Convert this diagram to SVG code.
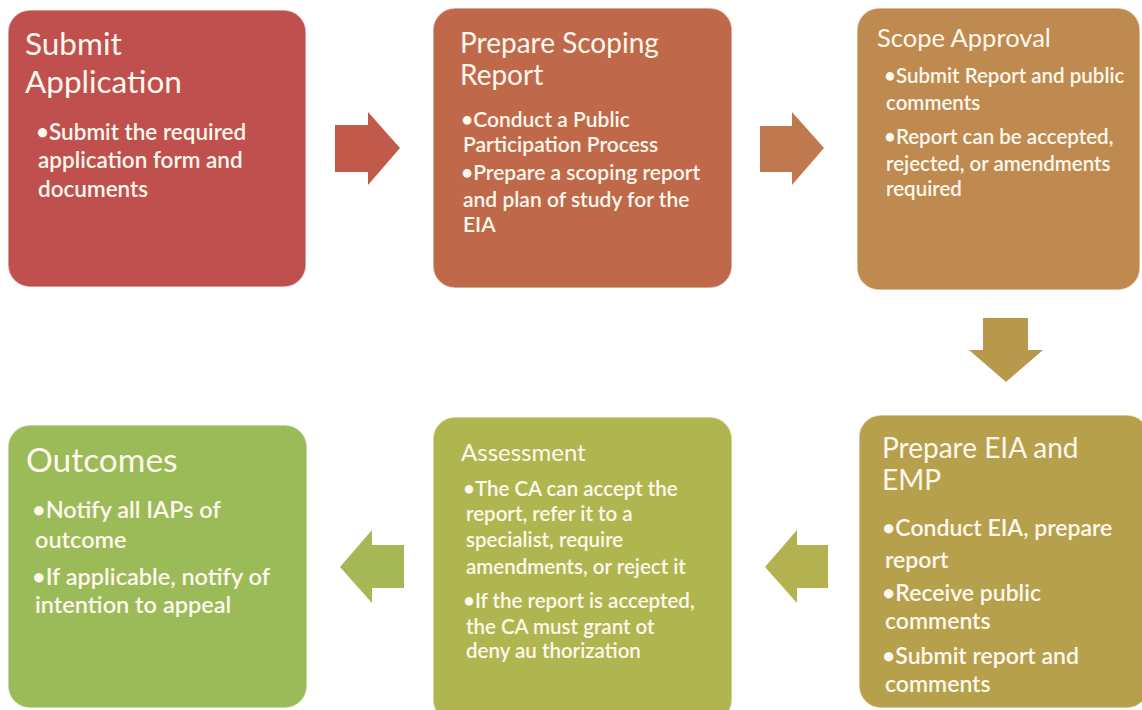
<svg xmlns="http://www.w3.org/2000/svg" width="1142" height="710" viewBox="0 0 1142 710">
  <style>
    .box { stroke: #ffffff; stroke-opacity: 0.55; stroke-width: 1.5; }
    .title { font-family: Lato, "Open Sans", "Liberation Sans", sans-serif; fill: #fff8ee; }
    .body { font-family: Lato, "Open Sans", "Liberation Sans", sans-serif; font-weight: 600; fill: #fff8ee; }
  </style>
  <rect width="1142" height="710" fill="#ffffff"/>

  <!-- process step nodes -->
  <g id="submit-application">
    <rect class="box" x="8" y="10" width="298" height="277" rx="22" fill="#c0504d"/>
    <text class="title" font-size="31.5"><tspan x="25" y="55">Submit</tspan><tspan x="25" y="93">Application</tspan></text>
    <text class="body" font-size="22.5"><tspan x="36" y="140">•Submit the required</tspan><tspan x="38" y="168">application form and</tspan><tspan x="38" y="197">documents</tspan></text>
  </g>

  <g id="prepare-scoping-report">
    <rect class="box" x="433" y="8" width="299" height="280" rx="22" fill="#c0694a"/>
    <text class="title" font-size="28"><tspan x="460" y="53">Prepare Scoping</tspan><tspan x="460" y="85">Report</tspan></text>
    <text class="body" font-size="21"><tspan x="461" y="127">•Conduct  a Public</tspan><tspan x="463" y="152">Participation Process</tspan><tspan x="461" y="180">•Prepare a scoping report</tspan><tspan x="463" y="207">and plan of study for the</tspan><tspan x="463" y="232">EIA</tspan></text>
  </g>

  <g id="scope-approval">
    <rect class="box" x="857" y="8" width="283" height="282" rx="22" fill="#be8a4f"/>
    <text class="title" font-size="25.5"><tspan x="877" y="47">Scope Approval</tspan></text>
    <text class="body" font-size="20.5"><tspan x="884" y="83">•Submit Report and public</tspan><tspan x="886" y="110">comments</tspan><tspan x="884" y="144">•Report can be accepted,</tspan><tspan x="886" y="171">rejected, or amendments</tspan><tspan x="886" y="196">required</tspan></text>
  </g>

  <g id="prepare-eia-emp">
    <rect class="box" x="859" y="415" width="290" height="293" rx="22" fill="#b7a04c"/>
    <text class="title" font-size="28"><tspan x="882" y="458">Prepare EIA and</tspan><tspan x="882" y="490">EMP</tspan></text>
    <text class="body" font-size="23"><tspan x="882" y="536">•Conduct EIA, prepare</tspan><tspan x="885" y="568">report</tspan><tspan x="882" y="601">•Receive public</tspan><tspan x="885" y="629">comments</tspan><tspan x="882" y="664">•Submit report and</tspan><tspan x="885" y="692">comments</tspan></text>
  </g>

  <g id="assessment">
    <rect class="box" x="433" y="417" width="299" height="305" rx="22" fill="#b0b64f"/>
    <text class="title" font-size="24"><tspan x="461" y="461">Assessment</tspan></text>
    <text class="body" font-size="20.5"><tspan x="463" y="496">•The CA can accept the</tspan><tspan x="466" y="521">report, refer it to a</tspan><tspan x="466" y="547">specialist, require</tspan><tspan x="466" y="574">amendments, or reject it</tspan><tspan x="463" y="608">•If the report is accepted,</tspan><tspan x="466" y="634">the CA must grant ot</tspan><tspan x="466" y="658">deny au thorization</tspan></text>
  </g>

  <g id="outcomes">
    <rect class="box" x="8" y="425" width="299" height="283" rx="22" fill="#9bbb59"/>
    <text class="title" font-size="33.5"><tspan x="26" y="472">Outcomes</tspan></text>
    <text class="body" font-size="23.5"><tspan x="32" y="518">•Notify all IAPs of</tspan><tspan x="35" y="548">outcome</tspan><tspan x="32" y="585">•If applicable, notify of</tspan><tspan x="35" y="613">intention to appeal</tspan></text>
  </g>

  <!-- block arrows between steps -->
  <g id="connectors">
    <polygon points="335,125 368,125 368,112 400,148 368,185 368,172 335,172" fill="#c25a4b"/>
    <polygon points="760,126 792,126 792,112 824,148 792,185 792,172 760,172" fill="#c0794e"/>
    <polygon points="983,318 1028,318 1028,350 1043,350 1006,382 969,350 983,350" fill="#b8984c"/>
    <polygon points="828,545 797,545 797,530 765,567 797,603 797,588 828,588" fill="#b3b150"/>
    <polygon points="404,545 372,545 372,530 340,567 372,603 372,588 404,588" fill="#a5b855"/>
  </g>
</svg>
